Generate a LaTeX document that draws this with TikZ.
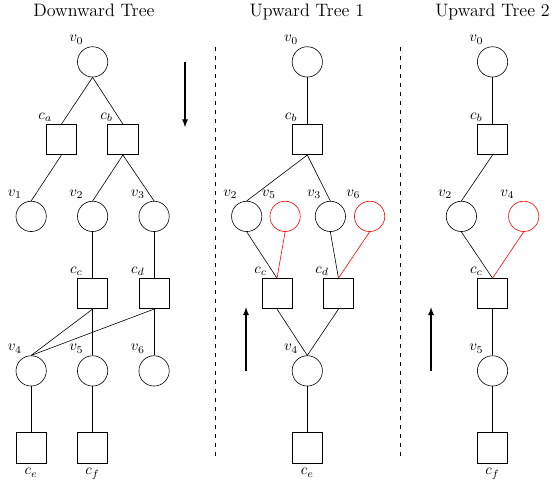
\documentclass[tikz,border=0pt]{standalone}
\usepackage{amsmath}
\usepackage{tikz}

\begin{document}
\begin{tikzpicture}[
    vert/.style = {circle, draw, minimum size = 0.71cm, inner sep = 0pt},
    check/.style = {rectangle, draw, minimum size = 0.71cm, inner sep = 0pt},
    tag/.style = {label = {[xshift = -0.38cm, yshift = 0.52cm]center:#1}},
    title/.style = {anchor = base, font = \large}
  ]
        \useasboundingbox (0, 0) rectangle (12.957, -11.411);

        % downward tree
        \node [title] (dtitle) at (2.2, -0.38) {Downward Tree};
        \node [vert, tag = $v_0$] (dv0) at (2.17, -1.45) {};
        \node [check, tag = $c_a$] (dca) at (1.44, -3.27) {};
        \node [check, tag = $c_b$] (dcb) at (2.88, -3.27) {};
        \node [vert, tag = $v_1$] (dv1) at (0.73, -5.07) {};
        \node [vert, tag = $v_2$] (dv2) at (2.17, -5.07) {};
        \node [vert, tag = $v_3$] (dv3) at (3.61, -5.07) {};
        \node [check, tag = $c_c$] (dcc) at (2.17, -6.88) {};
        \node [check, tag = $c_d$] (dcd) at (3.61, -6.88) {};
        \node [vert, tag = $v_4$] (dv4) at (0.73, -8.69) {};
        \node [vert, tag = $v_5$] (dv5) at (2.17, -8.69) {};
        \node [vert, tag = $v_6$] (dv6) at (3.61, -8.69) {};
        \node [check, label = below:$c_e$] (dce) at (0.73, -10.49) {};
        \node [check, label = below:$c_f$] (dcf) at (2.17, -10.49) {};

        \draw (dv0.south) -- (dca.north);
        \draw (dv0.south) -- (dcb.north);
        \draw (dca.south) -- (dv1.north);
        \draw (dcb.south) -- (dv2.north);
        \draw (dcb.south) -- (dv3.north);
        \draw (dv2.south) -- (dcc.north);
        \draw (dv3.south) -- (dcd.north);
        \draw (dcc.south) -- (dv4.north);
        \draw (dcd.south) -- (dv4.north);
        \draw (dcc.south) -- (dv5.north);
        \draw (dcd.south) -- (dv6.north);
        \draw (dv4.south) -- (dce.north);
        \draw (dv5.south) -- (dcf.north);

        \draw [->, >=latex, thick] (4.335, -1.45) -- (4.335, -2.98);

        \draw [dashed] (5.04, -1.10) -- (5.04, -10.73);

        % upward tree 1
        \node [title] (atitle) at (7.19, -0.38) {Upward Tree 1};
        \node [vert, tag = $v_0$] (av0) at (7.20, -1.45) {};
        \node [check, tag = $c_b$] (acb) at (7.20, -3.27) {};
        \node [vert, tag = $v_2$] (av2) at (5.78, -5.07) {};
        \node [vert, draw = red, tag = $v_5$] (av5) at (6.68, -5.07) {};
        \node [vert, tag = $v_3$] (av3) at (7.74, -5.07) {};
        \node [vert, draw = red, tag = $v_6$] (av6) at (8.66, -5.07) {};
        \node [check, tag = $c_c$] (acc) at (6.49, -6.88) {};
        \node [check, tag = $c_d$] (acd) at (7.93, -6.88) {};
        \node [vert, tag = $v_4$] (av4) at (7.20, -8.69) {};
        \node [check, label = below:$c_e$] (ace) at (7.20, -10.49) {};

        \draw (av0.south) -- (acb.north);
        \draw (acb.south) -- (av2.north);
        \draw (acb.south) -- (av3.north);
        \draw (av2.south) -- (acc.north);
        \draw [red] (av5.south) -- (acc.north);
        \draw (av3.south) -- (acd.north);
        \draw [red] (av6.south) -- (acd.north);
        \draw (acc.south) -- (av4.north);
        \draw (acd.south) -- (av4.north);
        \draw (av4.south) -- (ace.north);

        \draw [->, >=latex, thick] (5.764, -8.69) -- (5.764, -7.20);

        \draw [dashed] (9.37, -1.10) -- (9.37, -10.73);

        % upward tree 2
        \node [title] (btitle) at (11.54, -0.38) {Upward Tree 2};
        \node [vert, tag = $v_0$] (bv0) at (11.54, -1.45) {};
        \node [check, tag = $c_b$] (bcb) at (11.54, -3.27) {};
        \node [vert, tag = $v_2$] (bv2) at (10.81, -5.07) {};
        \node [vert, draw = red, tag = $v_4$] (bv4) at (12.27, -5.07) {};
        \node [check, tag = $c_c$] (bcc) at (11.54, -6.88) {};
        \node [vert, tag = $v_5$] (bv5) at (11.54, -8.69) {};
        \node [check, label = below:$c_f$] (bcf) at (11.54, -10.49) {};

        \draw (bv0.south) -- (bcb.north);
        \draw (bcb.south) -- (bv2.north);
        \draw (bv2.south) -- (bcc.north);
        \draw [red] (bv4.south) -- (bcc.north);
        \draw (bcc.south) -- (bv5.north);
        \draw (bv5.south) -- (bcf.north);

        \draw [->, >=latex, thick] (10.099, -8.69) -- (10.099, -7.20);

      \end{tikzpicture}
\end{document}
